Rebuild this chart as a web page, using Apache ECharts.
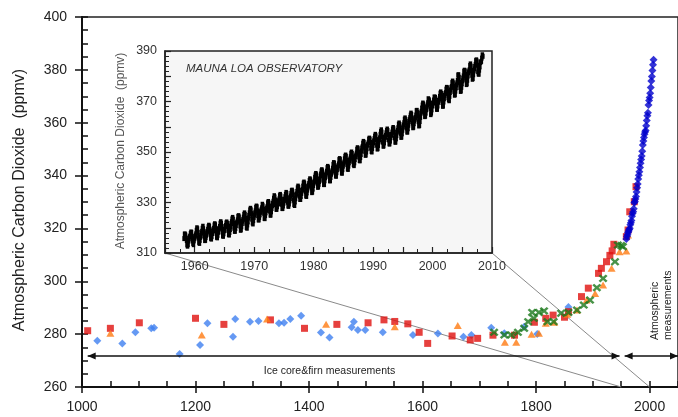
<!DOCTYPE html>
<html><head><meta charset="utf-8">
<script src="https://cdn.jsdelivr.net/npm/echarts@6/dist/echarts.min.js"></script>
<style>html,body{margin:0;padding:0;background:#fff}#c{width:678px;height:417px}</style>
</head><body><div id="c"></div>
<script>
// ---------- Main chart data: [year, ppmv] ----------
const lawDomeBlue = [[1027,277.5],[1071,276.5],[1094,280.7],[1122,282.2],[1127,282.4],[1172,272.5],[1208,275.9],[1221,284.1],[1266,279.0],[1270,285.7],[1296,284.7],[1311,285.0],[1347,284.1],[1356,284.3],[1367,285.7],[1386,287.0],[1421,280.6],[1436,278.7],[1475,282.6],[1479,284.7],[1486,281.6],[1499,281.6],[1530,280.7],[1583,279.7],[1627,280.2],[1672,279.0],[1686,279.7],[1721,282.4],[1744,280.3],[1779,282.8],[1802,280.1],[1857,290.3]];
const redSquares = [[1010,281.3],[1050,282.2],[1101,284.3],[1200,286.0],[1250,283.7],[1332,285.4],[1392,282.2],[1449,283.7],[1504,284.3],[1532,285.4],[1551,284.8],[1574,283.9],[1594,280.7],[1609,276.5],[1652,279.3],[1684,277.8],[1697,278.4],[1724,279.6],[1762,279.6],[1797,284.5],[1817,286.0],[1830,287.2],[1850,286.4],[1857,288.5],[1880,294.2],[1892,297.4],[1910,303.0],[1915,304.9],[1924,307.4],[1930,309.8],[1934,311.5],[1937,314.0],[1959,316.9],[1962,319.4],[1965,326.3],[1973,330.1],[1976,335.8]];
const orangeTriangles = [[1050,280.3],[1211,279.7],[1326,285.7],[1430,283.7],[1551,282.8],[1662,283.3],[1745,276.9],[1765,276.9],[1792,280.0],[1805,280.3],[1817,284.1],[1832,284.5],[1855,287.5],[1872,289.1],[1889,292.9],[1904,295.4],[1918,298.6],[1933,304.9],[1947,311.2],[1959,311.5],[1962,317.5]];
const greenCrosses = [[1726,280.7],[1744,279.7],[1756,279.7],[1768,280.7],[1779,282.2],[1786,284.7],[1793,288.2],[1796,286.0],[1805,288.2],[1814,288.8],[1820,284.7],[1831,284.7],[1844,287.9],[1857,288.2],[1872,289.1],[1884,291.0],[1895,292.9],[1907,297.6],[1918,301.1],[1939,307.4],[1944,313.7],[1950,313.5],[1953,313.1]];
const maunaLoaAnnual = [[1959,315.97],[1960,316.91],[1961,317.64],[1962,318.45],[1963,318.99],[1964,319.62],[1965,320.04],[1966,321.38],[1967,322.16],[1968,323.04],[1969,324.62],[1970,325.68],[1971,326.32],[1972,327.45],[1973,329.68],[1974,330.18],[1975,331.11],[1976,332.04],[1977,333.83],[1978,335.40],[1979,336.84],[1980,338.75],[1981,340.11],[1982,341.45],[1983,343.05],[1984,344.65],[1985,346.12],[1986,347.42],[1987,349.19],[1988,351.57],[1989,353.12],[1990,354.39],[1991,355.61],[1992,356.45],[1993,357.10],[1994,358.83],[1995,360.82],[1996,362.61],[1997,363.73],[1998,366.70],[1999,368.38],[2000,369.55],[2001,371.14],[2002,373.28],[2003,375.80],[2004,377.52],[2005,379.80],[2006,381.90],[2007,383.79]];

// ---------- Inset data: year, then Jan..Dec monthly ppmv ----------
const insetMonthly = [
[1958,null,null,315.7,317.5,317.5,317.1,315.9,314.9,313.2,312.7,313.3,314.7],
[1959,315.6,316.4,316.7,317.7,318.3,318.2,316.5,314.8,313.8,313.3,314.8,315.6],
[1960,316.4,317.0,317.6,319.0,320.0,319.6,318.2,315.9,314.2,313.8,315.0,316.2],
[1961,316.9,317.9,318.6,319.8,320.6,319.6,318.4,316.5,314.9,315.0,316.1,317.0],
[1962,317.9,318.6,319.4,320.4,321.0,320.6,319.4,317.3,315.8,315.5,316.5,317.7],
[1963,318.6,318.9,319.8,321.1,321.6,321.2,319.7,317.8,316.2,316.0,317.0,318.2],
[1964,319.4,319.8,320.5,321.8,322.4,321.8,320.4,318.3,316.8,316.6,317.6,318.8],
[1965,319.4,320.5,320.9,321.9,322.3,321.8,321.0,318.9,317.3,317.1,318.1,319.3],
[1966,320.5,321.7,322.4,323.5,324.1,323.4,321.7,319.8,318.6,318.6,319.7,320.9],
[1967,321.9,322.3,323.1,324.5,324.8,324.3,322.7,320.7,319.0,319.2,320.4,321.7],
[1968,322.6,323.3,324.2,325.3,325.9,325.3,323.7,321.8,320.1,319.8,321.1,322.3],
[1969,323.9,324.9,325.9,327.1,327.7,327.1,325.6,323.4,321.9,321.5,322.8,324.1],
[1970,325.0,325.9,326.7,328.1,328.6,328.3,326.7,324.8,323.1,323.1,324.1,325.1],
[1971,326.1,326.6,327.2,327.9,329.3,328.7,327.4,325.7,323.7,323.6,324.8,325.9],
[1972,326.9,327.8,328.4,329.9,330.4,329.8,328.5,326.6,325.0,325.0,326.3,327.6],
[1973,328.7,329.7,330.5,331.7,332.7,332.2,331.0,329.1,327.3,327.3,328.3,329.4],
[1974,329.5,330.7,331.4,332.7,333.2,332.6,331.3,329.3,327.6,327.6,328.6,329.7],
[1975,330.7,331.3,332.3,333.2,334.0,333.6,331.9,330.1,328.6,328.5,329.4,330.6],
[1976,331.6,332.6,333.6,334.7,334.9,334.3,333.0,330.9,329.2,328.8,330.2,331.5],
[1977,332.9,333.4,334.4,335.8,336.5,336.0,334.7,332.5,331.2,331.2,332.4,333.6],
[1978,334.8,335.2,336.5,337.7,338.1,337.6,336.3,334.3,332.6,332.4,333.8,334.9],
[1979,336.2,336.8,337.5,338.7,339.4,339.0,337.6,335.7,333.9,334.1,335.3,336.7],
[1980,338.0,338.4,340.0,340.9,341.5,341.0,339.4,337.6,336.0,336.2,337.2,338.3],
[1981,339.2,340.5,341.3,342.5,343.0,342.5,340.9,338.7,337.1,337.1,338.6,339.8],
[1982,340.9,341.7,342.4,343.8,344.3,343.8,342.2,340.2,338.6,338.6,339.9,341.2],
[1983,341.8,342.6,343.6,345.1,345.8,345.6,344.0,342.2,340.5,340.4,341.8,343.0],
[1984,344.0,344.6,345.3,347.0,347.4,347.0,345.4,343.3,341.7,341.6,343.0,344.4],
[1985,345.3,346.0,347.3,348.3,348.8,348.3,346.7,345.0,343.3,343.1,344.4,345.7],
[1986,346.6,347.2,348.1,349.5,350.0,349.4,348.0,346.3,345.0,344.6,345.7,347.0],
[1987,348.2,348.8,349.6,351.1,351.7,351.3,349.9,348.0,346.6,346.5,347.8,349.0],
[1988,350.4,351.6,352.2,353.5,354.2,353.8,352.3,350.3,348.7,348.8,350.0,351.3],
[1989,352.7,353.1,353.7,355.1,355.5,355.1,353.8,351.5,350.2,350.0,351.4,352.6],
[1990,353.6,354.4,355.3,356.3,357.0,356.4,354.9,352.7,351.2,351.3,352.6,354.0],
[1991,354.8,355.6,357.0,358.1,358.8,357.9,356.0,353.9,352.3,352.4,353.6,354.9],
[1992,355.8,356.6,357.6,358.5,359.1,358.5,356.9,354.8,353.2,353.2,354.3,355.7],
[1993,356.6,357.0,357.9,359.1,359.7,359.2,357.8,355.6,353.9,353.9,355.2,356.5],
[1994,357.9,358.6,359.6,361.0,361.5,360.9,359.4,357.4,355.8,355.9,357.2,358.6],
[1995,359.9,360.7,361.6,363.0,363.5,362.8,361.4,359.5,357.9,357.9,359.2,360.6],
[1996,362.1,362.8,363.6,364.6,365.4,364.9,363.4,361.4,359.6,359.8,361.2,362.3],
[1997,363.0,363.7,364.6,366.4,366.5,365.6,364.2,362.0,360.3,360.5,362.1,363.7],
[1998,365.4,366.1,367.4,368.6,369.4,369.0,367.5,365.6,364.0,364.2,365.4,366.7],
[1999,367.9,368.6,369.5,371.1,370.8,370.3,369.2,367.0,364.8,365.4,366.7,368.2],
[2000,369.3,369.5,370.6,371.8,371.5,371.7,369.9,368.2,366.9,366.9,368.2,369.7],
[2001,370.4,371.0,372.0,373.3,373.8,373.2,371.7,369.6,368.1,368.2,369.8,371.1],
[2002,372.4,373.1,373.5,374.9,375.6,375.4,374.0,371.5,370.7,370.3,372.0,373.6],
[2003,374.6,375.5,375.9,377.5,378.1,377.4,376.0,374.0,372.5,372.7,374.1,375.4],
[2004,376.6,377.4,378.4,380.5,380.6,379.6,377.6,375.6,374.0,374.2,375.6,377.0],
[2005,378.2,379.3,380.2,382.0,382.4,382.1,380.7,378.6,376.7,377.0,378.4,380.1],
[2006,381.4,382.1,382.6,384.3,384.9,384.0,382.3,380.4,378.8,379.1,380.6,382.1],
[2007,382.9,383.9,384.7,386.2,386.5,386.0,384.4,381.8,380.9,380.8,382.4,383.7],
[2008,385.4,385.7,385.9,387.2,388.5,387.9,null,null,null,null,null,null]
];

const mainYLabel = 'Atmospheric Carbon Dioxide  (ppmv)';
const insetYLabel = 'Atmospheric Carbon Dioxide  (ppmv)';
const insetTitle = 'MAUNA LOA OBSERVATORY';
const iceText = 'Ice core&firn measurements';
const atmText = 'Atmospheric\nmeasurements';

const insetData = [];
insetMonthly.forEach(row => {
  for (let m = 0; m < 12; m++) {
    const v = row[m + 1];
    if (v != null) insetData.push([row[0] + (m + 0.5) / 12, v]);
  }
});

const FONT = 'Liberation Sans, Arial, sans-serif';
const chart = echarts.init(document.getElementById('c'), null, {renderer: 'canvas'});
const xPath = 'path://M2,0 L5,3 L8,0 L10,2 L7,5 L10,8 L8,10 L5,7 L2,10 L0,8 L3,5 L0,2 Z';

chart.setOption({
  animation: false,
  backgroundColor: '#fff',
  grid: [
    {left: 82, top: 17, width: 603.75, height: 370, show: true, borderColor: '#222', borderWidth: 1.5, backgroundColor: 'transparent'},
    {left: 165, top: 51, width: 327, height: 202, show: true, borderColor: '#222', borderWidth: 1.5, backgroundColor: '#f6f6f6', z: 5}
  ],
  xAxis: [
    {type: 'value', gridIndex: 0, min: 1000, max: 2050, interval: 200, position: 'bottom',
     axisLine: {show: true, lineStyle: {color: '#111', width: 2}},
     axisTick: {show: true, inside: false, length: 6, lineStyle: {color: '#111', width: 1.5}},
     axisLabel: {margin: 13, fontSize: 14, color: '#222', fontFamily: FONT, showMaxLabel: false, formatter: v => String(v)},
     splitLine: {show: false}},
    {type: 'value', gridIndex: 0, min: 1000, max: 2050, interval: 50, position: 'bottom',
     axisLine: {show: false},
     axisTick: {show: true, inside: true, length: 6, lineStyle: {color: '#111', width: 1.5}},
     axisLabel: {show: false}, splitLine: {show: false}},
    {type: 'value', gridIndex: 1, min: 1955, max: 2010, interval: 5, position: 'bottom',
     axisLine: {show: true, lineStyle: {color: '#222', width: 1.5}},
     axisTick: {show: true, inside: true, length: 6, lineStyle: {color: '#222', width: 1.2}},
     minorTick: {show: true, splitNumber: 2, length: 4, lineStyle: {color: '#222', width: 1}},
     axisLabel: {margin: 7, fontSize: 12.5, color: '#333', fontFamily: FONT,
       formatter: v => (v % 10 === 0 ? String(v) : '')},
     splitLine: {show: false}, z: 6}
  ],
  yAxis: [
    {type: 'value', gridIndex: 0, min: 260, max: 400, interval: 20, position: 'left',
     axisLine: {show: true, lineStyle: {color: '#111', width: 2}},
     axisTick: {show: true, inside: false, length: 7, lineStyle: {color: '#111', width: 1.5}},
     axisLabel: {margin: 15, fontSize: 14, color: '#222', fontFamily: FONT},
     splitLine: {show: false}},
    {type: 'value', gridIndex: 0, min: 260, max: 400, interval: 5, position: 'left',
     axisLine: {show: false},
     axisTick: {show: true, inside: true, length: 6, lineStyle: {color: '#111', width: 1.5}},
     axisLabel: {show: false}, splitLine: {show: false}},
    {type: 'value', gridIndex: 1, min: 310, max: 390, interval: 10, position: 'left',
     axisLine: {show: true, lineStyle: {color: '#222', width: 1.5}},
     axisTick: {show: true, inside: true, length: 6, lineStyle: {color: '#222', width: 1.2}},
     minorTick: {show: true, splitNumber: 5, length: 4, lineStyle: {color: '#222', width: 1}},
     axisLabel: {margin: 8, fontSize: 12.5, color: '#333', fontFamily: FONT,
       formatter: v => ((v - 310) % 20 === 0 ? String(v) : '')},
     splitLine: {show: false}, z: 6}
  ],
  series: [
    {type: 'scatter', xAxisIndex: 0, yAxisIndex: 0, data: lawDomeBlue, symbol: 'diamond', symbolSize: [8, 8],
     itemStyle: {color: '#3f80f0'}, z: 2},
    {type: 'scatter', xAxisIndex: 0, yAxisIndex: 0, data: redSquares, symbol: 'rect', symbolSize: 7,
     itemStyle: {color: '#e0100e'}, z: 3},
    {type: 'scatter', xAxisIndex: 0, yAxisIndex: 0, data: orangeTriangles, symbol: 'triangle', symbolSize: [8, 7],
     itemStyle: {color: '#ff7a12'}, z: 3},
    {type: 'scatter', xAxisIndex: 0, yAxisIndex: 0, data: greenCrosses, symbol: xPath, symbolSize: [9, 8],
     itemStyle: {color: '#1a781a'}, z: 4},
    {type: 'scatter', xAxisIndex: 0, yAxisIndex: 0, data: maunaLoaAnnual, symbol: 'diamond', symbolSize: [8, 8],
     itemStyle: {color: '#0000cc'}, z: 5},
    {type: 'line', xAxisIndex: 2, yAxisIndex: 2, data: insetData, symbol: 'rect', symbolSize: [3.5, 5], showAllSymbol: true,
     itemStyle: {color: '#000'}, lineStyle: {color: '#000', width: 2}, z: 10}
  ]
});

function px(axisIdx, pt) {
  return chart.convertToPixel({xAxisIndex: axisIdx, yAxisIndex: axisIdx}, pt);
}
const arrowY = 271.7;
const a1L = px(0, [1010, arrowY]), a1R = px(0, [1947, arrowY]);
const a2L = px(0, [1956, arrowY]), a2R = px(0, [2050, arrowY]);
const insBL = px(2, [1955, 310]), insBR = px(2, [2010, 310]);
const mainL = px(0, [1950, 260]), mainR = px(0, [2000, 260]);
const HL = 8, HW = 3.5;
function headLeft(p) { return {type: 'polygon', shape: {points: [[p[0], p[1]], [p[0] + HL, p[1] - HW], [p[0] + HL, p[1] + HW]]}, style: {fill: '#111'}, z: 20}; }
function headRight(p) { return {type: 'polygon', shape: {points: [[p[0], p[1]], [p[0] - HL, p[1] - HW], [p[0] - HL, p[1] + HW]]}, style: {fill: '#111'}, z: 20}; }

chart.setOption({
  graphic: [
    {type: 'line', shape: {x1: insBL[0], y1: insBL[1], x2: mainL[0], y2: mainL[1]}, style: {stroke: '#8a8a8a', lineWidth: 1}, z: 1},
    {type: 'line', shape: {x1: insBR[0], y1: insBR[1], x2: mainR[0], y2: mainR[1]}, style: {stroke: '#8a8a8a', lineWidth: 1}, z: 1},
    {type: 'line', shape: {x1: a1L[0], y1: a1L[1], x2: a1R[0], y2: a1R[1]}, style: {stroke: '#111', lineWidth: 1.5}, z: 20},
    headLeft(a1L), headRight(a1R),
    {type: 'line', shape: {x1: a2L[0], y1: a2L[1], x2: a2R[0], y2: a2R[1]}, style: {stroke: '#111', lineWidth: 1.5}, z: 20},
    headLeft(a2L), headRight(a2R),
    {type: 'text', x: 20, y: 200, rotation: Math.PI / 2, z: 20,
     style: {text: mainYLabel, fontSize: 16, fontFamily: FONT, fill: '#222', align: 'center', verticalAlign: 'middle'}},
    {type: 'text', x: 121, y: 151, rotation: Math.PI / 2, z: 20,
     style: {text: insetYLabel, fontSize: 12, fontFamily: FONT, fill: '#555', align: 'center', verticalAlign: 'middle'}},
    {type: 'text', x: 186, y: 69, z: 20,
     style: {text: insetTitle, fontSize: 11.5, fontStyle: 'italic', fontFamily: FONT, fill: '#333', align: 'left', verticalAlign: 'middle'}},
    {type: 'text', x: 329.5, y: 371, z: 20,
     style: {text: iceText, fontSize: 10.5, fontFamily: FONT, fill: '#222', align: 'center', verticalAlign: 'middle'}},
    {type: 'text', x: 662, y: 340, rotation: Math.PI / 2, z: 20,
     style: {text: atmText, fontSize: 10.5, lineHeight: 13, fontFamily: FONT, fill: '#222', align: 'left', verticalAlign: 'middle'}}
  ]
});
</script>
</body></html>
